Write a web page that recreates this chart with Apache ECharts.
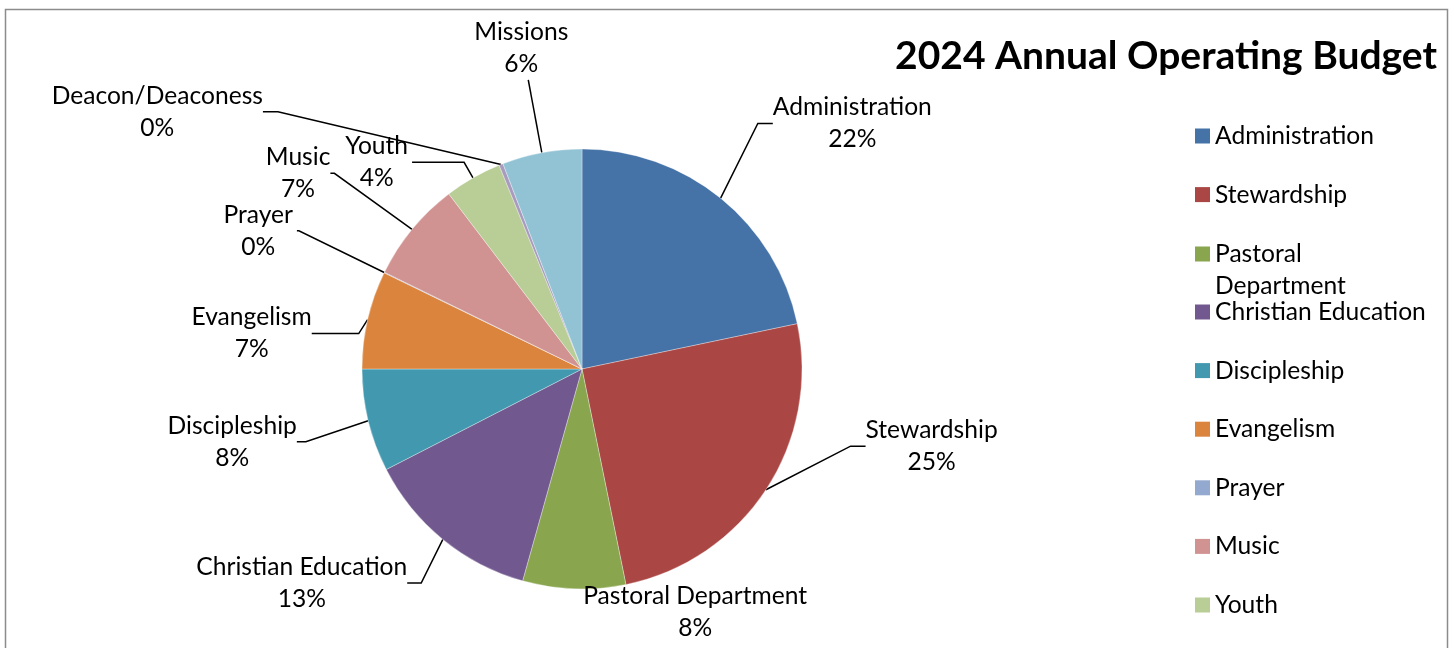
<!DOCTYPE html>
<html>
<head>
<meta charset="utf-8">
<script src="https://cdn.jsdelivr.net/npm/echarts@6/dist/echarts.min.js"></script>
<style>
html,body{margin:0;padding:0;background:#fff;}
#chart{width:1454px;height:648px;}
</style>
</head>
<body>
<div id="chart"></div>
<script>
// ---- data ----
var categories = ['Administration', 'Stewardship', 'Pastoral Department', 'Christian Education',
  'Discipleship', 'Evangelism', 'Prayer', 'Music', 'Youth', 'Deacon/Deaconess', 'Missions'];
// share of the budget, %
var shares = [21.7, 25.1, 7.55, 13.1, 7.55, 7.2, 0.05, 7.4, 4.2, 0.3, 5.85];
var titleText = '2024 Annual Operating Budget';

// ---- styles ----
var colors = ['#4572A7', '#AA4643', '#89A54E', '#71588F', '#4198AF', '#DB843D',
  '#93A9CF', '#D19392', '#B9CD96', '#A99BBD', '#92C3D5'];
var FONT = 'Lato';
var FS = 24.6;
// leader line lengths per label (radial, horizontal)
var leader = {
  'Administration': [86, 15],
  'Stewardship': [8, 15],
  'Pastoral Department': [23, 0, false],
  'Christian Education': [50, 14],
  'Discipleship': [60, 9],
  'Evangelism': [5, 47],
  'Prayer': [95, 2],
  'Music': [85, 4],
  'Youth': [18, 52],
  'Deacon/Deaconess': [60, 15],
  'Missions': [74, 0]
};
// manual nudges of individual labels (like the hand-placed labels of the original);
// moved labels get their leader line re-routed by ECharts
var labelTweak = {
  'Administration': {dx: -21, dy: -8},
  'Stewardship': {dx: 74, dy: -48},
  'Pastoral Department': {align: 'left', shift: 14},
  'Christian Education': {dx: 14, dy: 5},
  'Discipleship': {dx: 0, dy: 7},
  'Evangelism': {dx: 0, dy: 15},
  'Music': {dx: -8, dy: -2},
  'Deacon/Deaconess': {dx: -197, dy: 3},
  'Missions': {align: 'center', verticalAlign: 'bottom', shift: -3}
};

var total = shares.reduce(function (a, b) { return a + b; }, 0);
var pieData = categories.map(function (name, i) {
  var l = leader[name];
  return {
    name: name,
    value: shares[i],
    itemStyle: {color: colors[i]},
    labelLine: {show: l[2] !== false, length: l[0], length2: l[1]}
  };
});

function legendBlock(names, top, formatter) {
  return {
    orient: 'vertical',
    left: 1195,
    top: top,
    height: 1000,
    padding: 0,
    itemWidth: 15,
    itemHeight: 15,
    itemGap: 26.6,
    icon: 'rect',
    selectedMode: false,
    data: names,
    formatter: formatter,
    textStyle: {fontFamily: FONT, fontSize: FS, color: '#000', lineHeight: 32},
    itemStyle: {borderWidth: 0}
  };
}

var chart = echarts.init(document.getElementById('chart'), null, {renderer: 'canvas'});
chart.setOption({
  animation: false,
  backgroundColor: '#ffffff',
  graphic: [{
    type: 'rect',
    shape: {x: 5.5, y: 9.5, width: 1442, height: 700},
    style: {fill: 'none', stroke: '#8c8c8c', lineWidth: 1.5},
    silent: true, z: -1
  }],
  title: {
    text: titleText,
    right: 12,
    top: 32,
    textStyle: {fontFamily: FONT, fontWeight: 'bold', fontSize: 39, color: '#000'}
  },
  legend: [
    legendBlock(categories.slice(0, 2), 120),
    // wrapped entry: the first line sits level with its swatch, like the original
    legendBlock(categories.slice(2, 3), 206, function () { return '\nPastoral\nDepartment'; }),
    legendBlock(categories.slice(3), 296)
  ],
  series: [{
    type: 'pie',
    center: [582, 369],
    radius: 220,
    startAngle: 90,
    clockwise: true,
    avoidLabelOverlap: false,
    data: pieData,
    itemStyle: {borderColor: 'rgba(255,255,255,0.55)', borderWidth: 0.6},
    label: {
      show: true,
      position: 'outside',
      distanceToLabelLine: 4,
      formatter: function (p) {
        var pct = Math.round(p.value / total * 100);
        return '{a|' + p.name + '}\n{a|' + pct + '%}';
      },
      rich: {
        a: {fontFamily: FONT, fontSize: FS, lineHeight: 32, color: '#000', align: 'center'}
      }
    },
    labelLine: {
      show: true,
      smooth: false,
      lineStyle: {color: '#000', width: 1.5}
    },
    labelLayout: function (p) {
      var t = labelTweak[categories[p.dataIndex]];
      if (!t) return {};
      var o = {};
      if (t.align) o.align = t.align;
      if (t.verticalAlign) o.verticalAlign = t.verticalAlign;
      if (t.shift) o.dx = t.shift;
      if (t.dx != null) {
        var r = p.labelRect;
        var ax = p.align === 'right' ? r.x + r.width : (p.align === 'center' ? r.x + r.width / 2 : r.x);
        o.x = ax + t.dx;
        o.y = r.y + r.height / 2 + t.dy;
      }
      return o;
    },
    emphasis: {disabled: true}
  }]
});
</script>
</body>
</html>
